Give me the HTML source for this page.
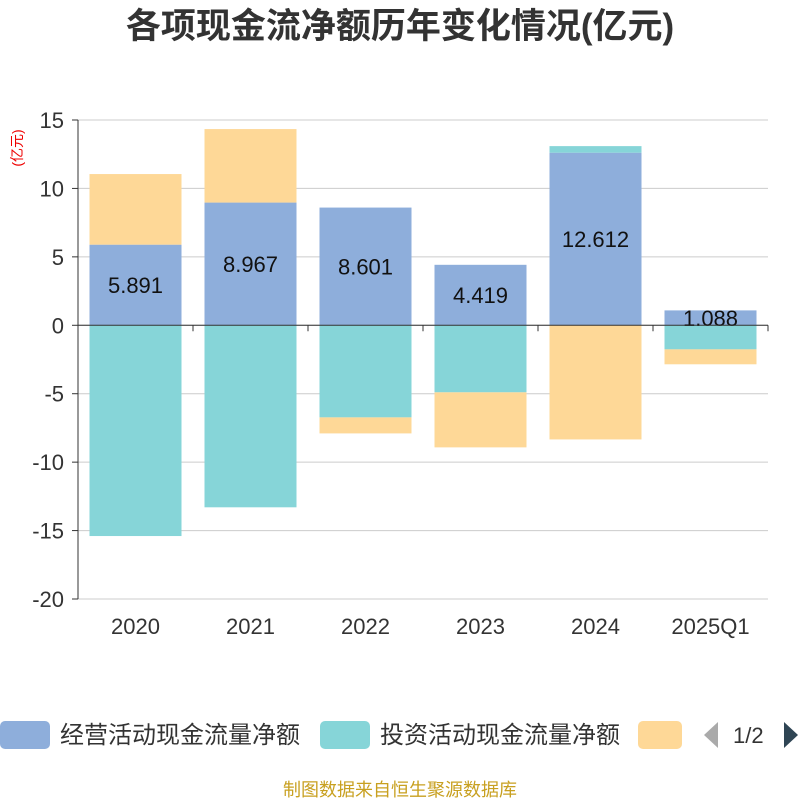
<!DOCTYPE html>
<html><head><meta charset="utf-8"><style>
body{margin:0;background:#fff;font-family:"Liberation Sans","Noto Sans CJK SC",sans-serif}
</style></head><body>
<svg id="c" width="800" height="800" xmlns="http://www.w3.org/2000/svg" style="font-family:'Liberation Sans','Noto Sans CJK SC',sans-serif">
<text x="400" y="38" text-anchor="middle" font-size="35" font-weight="bold" fill="#333">各项现金流净额历年变化情况(亿元)</text>
<text transform="translate(22,148) rotate(-90)" text-anchor="middle" font-size="14" fill="#e00">(亿元)</text>
<g id="grid"></g><g id="bars"></g><g id="axes"></g>
<g font-size="24" fill="#333">
<rect x="0" y="721" width="50" height="28" rx="5" fill="#8eaedb"/>
<text x="60" y="743">经营活动现金流量净额</text>
<rect x="320" y="721" width="50" height="28" rx="5" fill="#86d5d8"/>
<text x="380" y="743">投资活动现金流量净额</text>
<rect x="638" y="721" width="44" height="28" rx="5" fill="#fed897"/>
<polygon points="718,722 718,748 704,735" fill="#aaa"/>
<text x="733" y="743" font-size="22">1/2</text>
<polygon points="784,722 784,748 798,735" fill="#2f4554"/>
</g>
<text x="400" y="796" text-anchor="middle" font-size="18" fill="#c8a020">制图数据来自恒生聚源数据库</text>
</svg>
<script>
const categories=["2020","2021","2022","2023","2024","2025Q1"];
const operating=[5.891,8.967,8.601,4.419,12.612,1.088];
const investing=[-15.4,-13.3,-6.73,-4.9,0.48,-1.76];
const financing=[5.16,5.37,-1.17,-4.02,-8.34,-1.09];
const yTicks=[15,10,5,0,-5,-10,-15,-20];
const NS="http://www.w3.org/2000/svg";
const x0=78,x1=768,yTop=120,yBottom=599,ymax=15,ymin=-20;
const y=v=>yTop+(ymax-v)/(ymax-ymin)*(yBottom-yTop);
const bw=(x1-x0)/categories.length;
const xc=i=>x0+bw*(i+0.5);
function mk(tag,attrs,parent,txt){const e=document.createElementNS(NS,tag);for(const k in attrs)e.setAttribute(k,attrs[k]);if(txt!==undefined)e.textContent=txt;document.getElementById(parent).appendChild(e);return e;}
yTicks.forEach(t=>{
 const l=mk('line',{x1:x0,x2:x1,y1:y(t),y2:y(t),stroke:'#ccc'},'grid');
 
 
 const tx=mk('text',{x:x0-14,y:y(t)+8,'text-anchor':'end','font-size':22,fill:'#333'},'axes',t);
 
 
});
const series=[[operating,'#8eaedb','operating'],[investing,'#86d5d8','investing'],[financing,'#fed897','financing']];
categories.forEach((c,i)=>{
 let pos=0,neg=0;
 series.forEach(([arr,col,nm])=>{
  const v=arr[i];let a,b;
  if(v>=0){a=pos;b=pos+v;pos=b;}else{a=neg;b=neg+v;neg=b;}
  const r=mk('rect',{x:xc(i)-46,width:92,y:Math.min(y(a),y(b)),height:Math.abs(y(a)-y(b)),fill:col},'bars');
  
  
 });
 const v=operating[i];
 const t=mk('text',{x:xc(i),y:y(v/2)+8,'text-anchor':'middle','font-size':22,fill:'#111'},'bars',v.toFixed(3));
 
 
 const xl=mk('text',{x:xc(i),y:634,'text-anchor':'middle','font-size':22,fill:'#333'},'axes',c);
 
 
});
const ya=mk('line',{x1:x0,x2:x0,y1:yTop,y2:yBottom,stroke:'#333'},'axes');


const xa=mk('line',{x1:x0,x2:x1,y1:y(0),y2:y(0),stroke:'#333'},'axes');


for(let i=0;i<=categories.length;i++){
 const tk=mk('line',{x1:x0+bw*i,x2:x0+bw*i,y1:y(0),y2:y(0)+6,stroke:'#333'},'axes');
 
 
}
yTicks.forEach(t=>{
 const tk=mk('line',{x1:x0-6,x2:x0,y1:y(t),y2:y(t),stroke:'#333'},'axes');
 
 
});
</script>
</body></html>
